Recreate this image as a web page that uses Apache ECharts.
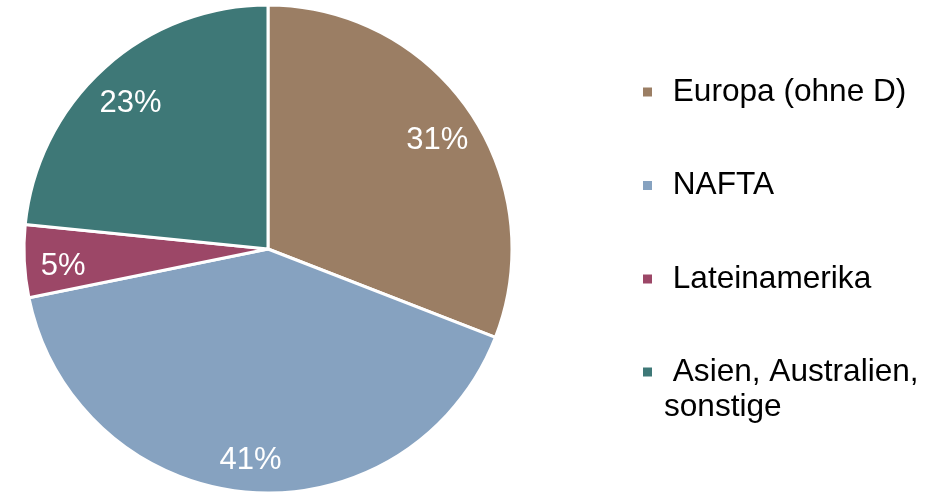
<!DOCTYPE html>
<html>
<head>
<meta charset="utf-8">
<script src="https://cdn.jsdelivr.net/npm/echarts@6/dist/echarts.min.js"></script>
<style>
  html, body { margin: 0; padding: 0; background: #fff; }
  #chart { width: 944px; height: 493px; }
</style>
</head>
<body>
<div id="chart"></div>
<script>
// Anteile (Winkel aus dem Bild gelesen, Beschriftung gerundet)
const regions = ['Europa (ohne D)', 'NAFTA', 'Lateinamerika', 'Asien, Australien,\nsonstige'];
const shares = [30.9, 40.9, 4.8, 23.4];
const colors = ['#9b7e64', '#86a2c0', '#9c4767', '#3e7877'];

const FONT = '"Liberation Sans", Arial, sans-serif';

let chart = echarts.init(document.getElementById('chart'));

let pieData = [];
for (let i = 0; i < regions.length; i++) {
  pieData.push({
    name: regions[i],
    value: shares[i],
    itemStyle: { color: colors[i] }
  });
}

let labelData = [];
for (let i = 0; i < regions.length; i++) {
  labelData.push({ name: regions[i], value: shares[i] });
}

const legendText = {
  fontFamily: FONT,
  fontSize: 31.6,
  color: '#000',
  lineHeight: 35,
  padding: [0, 0, 0, 6]
};

const option = {
  animation: false,
  legend: [
    {
      orient: 'vertical',
      left: 641,
      top: 74.5,
      padding: 0,
      itemWidth: 11,
      itemHeight: 11,
      itemGap: 58.5,
      icon: 'rect',
      selectedMode: false,
      data: regions.slice(0, 3),
      formatter: function (name) { return ' ' + name; },
      textStyle: legendText
    },
    {
      // zweizeiliger Eintrag: Leerzeile davor, damit das Kästchen auf Höhe der ersten Zeile sitzt
      orient: 'vertical',
      left: 641,
      top: 319.5,
      padding: 0,
      itemWidth: 11,
      itemHeight: 11,
      icon: 'rect',
      selectedMode: false,
      data: regions.slice(3),
      formatter: function (name) { return '\n ' + name; },
      textStyle: legendText
    }
  ],
  series: [
    {
      type: 'pie',
      center: [268, 249],
      radius: [0, 244],
      startAngle: 90,
      clockwise: true,
      label: { show: false },
      labelLine: { show: false },
      emphasis: { disabled: true },
      itemStyle: { borderColor: '#fff', borderWidth: 3 },
      data: pieData
    },
    {
      // nur für die Prozent-Beschriftungen
      type: 'pie',
      center: [268, 249],
      radius: [160, 244],
      startAngle: 90,
      clockwise: true,
      silent: true,
      itemStyle: { color: 'rgba(0,0,0,0)', borderWidth: 0 },
      labelLine: { show: false },
      label: {
        show: true,
        position: 'inside',
        color: '#fff',
        fontFamily: FONT,
        fontSize: 31,
        offset: [0, 7],
        formatter: function (p) { return Math.round(p.percent) + '%'; }
      },
      data: labelData
    }
  ]
};

chart.setOption(option);
</script>
</body>
</html>
